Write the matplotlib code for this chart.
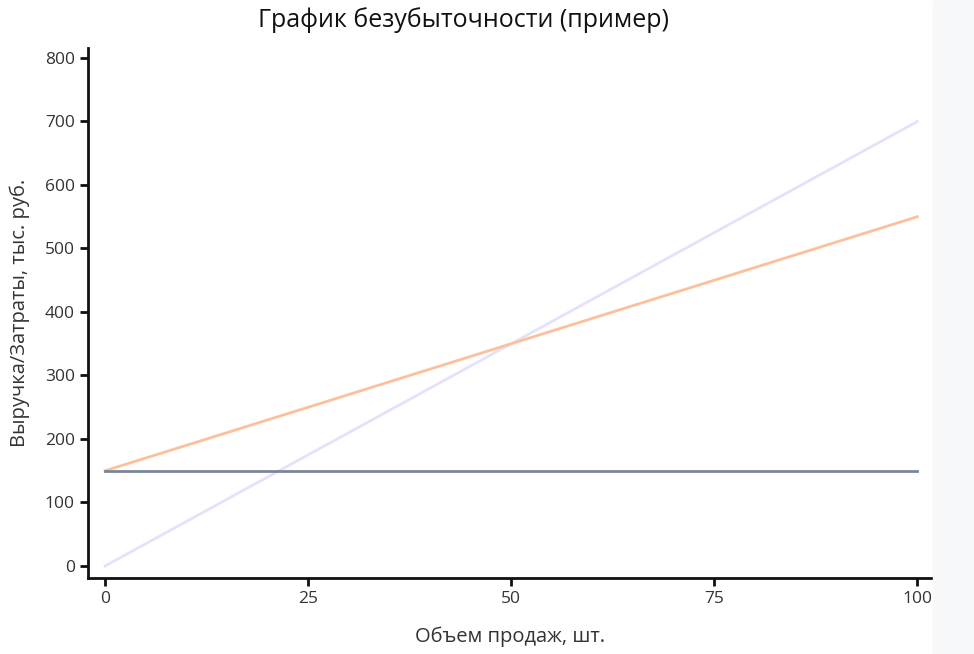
import matplotlib.pyplot as plt
from matplotlib.patches import Rectangle

plt.rcParams['font.family'] = ['Open Sans', 'DejaVu Sans']

volume = [0, 100]
revenue = [0, 700]
total_costs = [150, 550]
fixed_costs = [150, 150]

x_ticks = [0, 25, 50, 75, 100]
y_ticks = [0, 100, 200, 300, 400, 500, 600, 700, 800]

W, H = 974, 654
fig = plt.figure(figsize=(W/100, H/100), dpi=100)
fig.patches.append(Rectangle((933/W, 0), 1 - 933/W, 1, transform=fig.transFigure,
                             color="#f7f8fa", zorder=0))

ax = fig.add_axes([88/W, 1 - 578/H, (932 - 88)/W, (578 - 48)/H])
ax.patch.set_alpha(0)

ax.plot(volume, revenue, color="#e4e2fb", lw=2)
ax.plot(volume, total_costs, color="#fdbf9c", lw=2)
ax.plot(volume, fixed_costs, color="#7a8698", lw=2)

ax.set_xlim(-2.1, 101.8)
ax.set_ylim(-18.9, 815.7)
ax.set_xticks(x_ticks)
ax.set_yticks(y_ticks)
for s in ["top", "right"]:
    ax.spines[s].set_visible(False)
for s in ["left", "bottom"]:
    ax.spines[s].set_linewidth(2)
    ax.spines[s].set_color("#111111")
ax.tick_params(width=2, length=6, labelsize=12.5, color="#111111", labelcolor="#333333")

ax.set_xlabel("Объем продаж, шт.", fontsize=14.5, labelpad=14, color="#333333")
ax.set_ylabel("Выручка/Затраты, тыс. руб.", fontsize=14.5, labelpad=11, color="#333333")
fig.text(463/W, 1 - 20/H, "График безубыточности (пример)", ha="center", va="center",
         fontsize=18, color="#111111")

fig.savefig("out.png", dpi=100)
